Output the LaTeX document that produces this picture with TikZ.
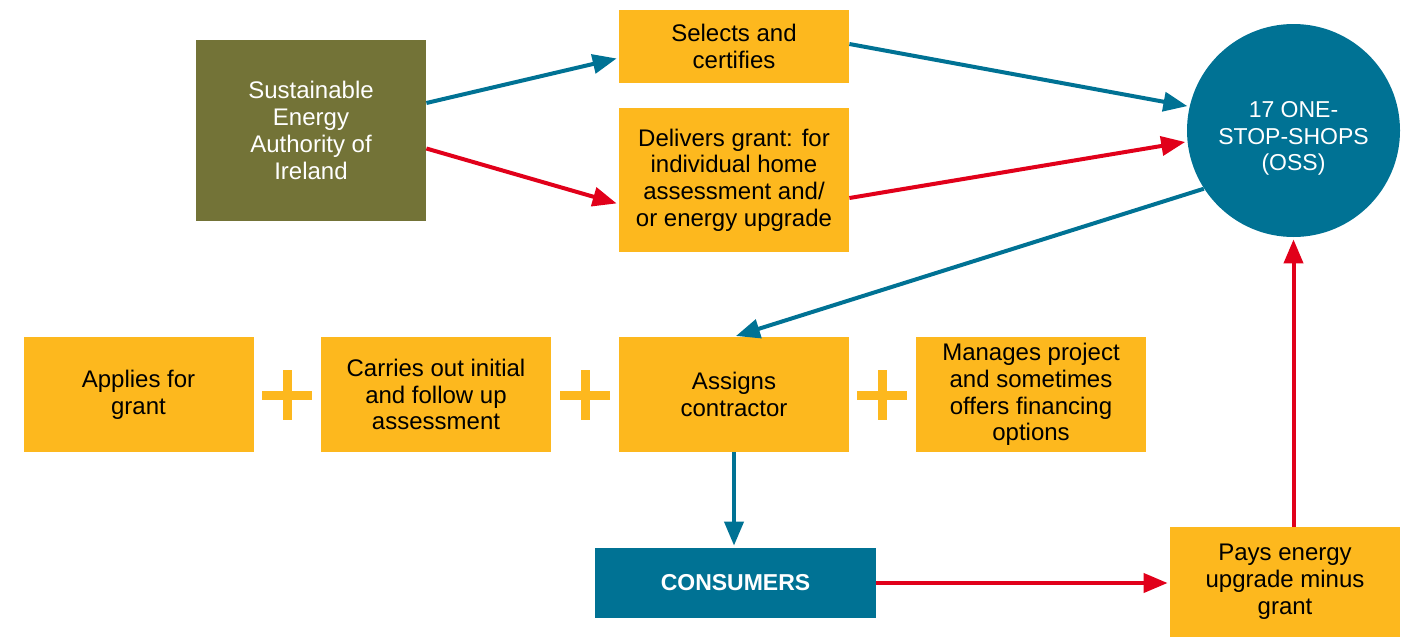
\documentclass[tikz,border=0pt]{standalone}
\usepackage{xcolor}
\usepackage{fontspec}
\setmainfont{Liberation Sans}
\usepackage{tikz}
\usetikzlibrary{calc,arrows.meta}

\definecolor{olive}{RGB}{115,115,55}
\definecolor{ossblue}{RGB}{0,114,148}
\definecolor{arrowred}{RGB}{225,0,26}
\definecolor{boxyellow}{RGB}{253,184,30}

\begin{document}
\begin{tikzpicture}[x=0.5pt,y=-0.5pt,
		font=\fontsize{12pt}{13.4pt}\selectfont,
		box/.style={fill=boxyellow,inner sep=0pt,align=center,minimum width=115pt},
		bluearrow/.style={draw=ossblue,line width=2pt,-{Triangle[length=12pt,width=9.5pt]},shorten >=1pt},
		redarrow/.style={draw=arrowred,line width=2pt,-{Triangle[length=12pt,width=9.5pt]},shorten >=1pt},
		plussign/.style={draw=boxyellow,line width=4.5pt}]
			\useasboundingbox (0,0) rectangle (1402,637);
			\node(seai)[fill=olive,text=white,align=center,minimum width=115pt,minimum height=90.5pt] at (311,130.5)
				{Sustainable\\Energy\\Authority of\\Ireland};
			\node(sel)[box,minimum height=36.5pt] at (734,46.5) {Selects and\\certifies};
			\node(del)[box,minimum height=72pt] at (734,180)
				{Delivers grant: for\\individual home\\assessment and/\\or energy upgrade};
			\node(oss)[circle,fill=ossblue,minimum size=106.5pt,inner sep=0pt] at (1293.5,130.5) {};
			\node(osstext)[text=white,align=center,font=\fontsize{11.5pt}{13.4pt}\selectfont] at ([yshift=-4pt]oss.center)
				{17 ONE-\\STOP-SHOPS\\(OSS)};
			\node(app)[box,minimum height=57.5pt] at (138.5,394.5) {Applies for\\grant};
			\node(car)[box,minimum height=57.5pt] at (436,394.5) {Carries out initial\\and follow up\\assessment};
			\node(asg)[box,minimum height=57.5pt] at (734,394.5) {Assigns\\contractor};
			\node(man)[box,minimum height=57.5pt] at (1031,394.5)
				{Manages project\\and sometimes\\offers financing\\options};
			\node(con)[fill=ossblue,text=white,font=\fontsize{11.5pt}{13.4pt}\selectfont\bfseries,minimum width=140.5pt,minimum height=35pt,inner sep=0pt] at (735.5,583) {CONSUMERS};
			\node(pay)[box,minimum height=55pt] at (1285,582) {Pays energy\\upgrade minus\\grant};
			\foreach \x in {287,585,882}
				\draw[plussign] (\x-25,395) -- (\x+25,395) (\x,370) -- (\x,420);
			\draw[bluearrow] ($(seai.east)+(0,-27.5)$) -- ($(sel.west)+(0,11.5)$);
			\draw[redarrow] ($(seai.east)+(0,18)$) -- ($(del.west)+(0,24)$);
			\draw[bluearrow] ($(sel.east)+(0,-2.5)$) -- (oss.167);
			\draw[redarrow] ($(del.east)+(0,18)$) -- (oss.186);
			\draw[bluearrow] (oss.213) -- (asg.north);
			\draw[bluearrow] (asg.south) -- (asg.south |- con.north);
			\draw[redarrow] (con.east) -- (con.east -| pay.west);
			\draw[redarrow] (pay.north -| oss.south) -- (oss.south);
		\end{tikzpicture}
\end{document}
